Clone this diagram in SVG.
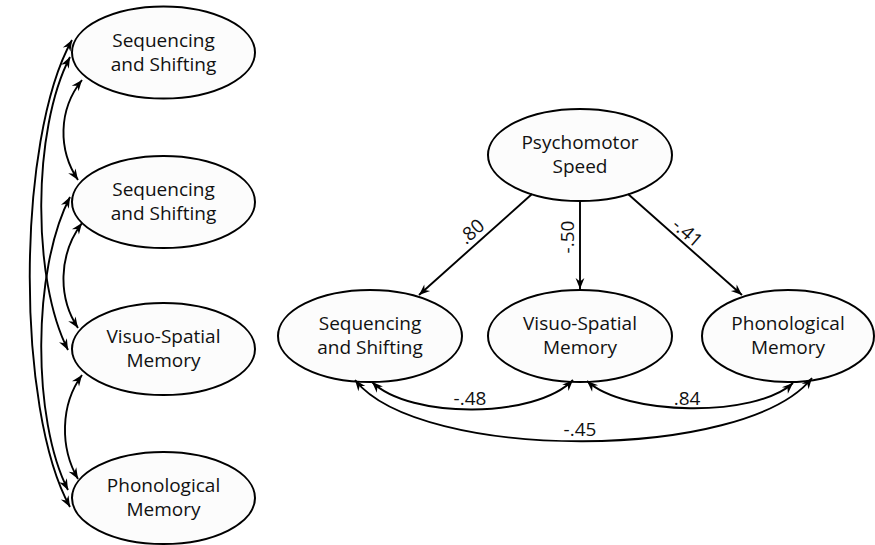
<svg xmlns="http://www.w3.org/2000/svg" width="875" height="545" viewBox="0 0 875 545">
  <style>
    .node ellipse { fill: #fcfcfc; stroke: #000; stroke-width: 2; }
    .node text, .lbl { font-family: "Open Sans", "Liberation Sans", sans-serif; font-size: 19px; fill: #111; text-anchor: middle; }
    .edge { fill: none; stroke: #000; stroke-width: 1.9; }
    .one { marker-end: url(#head); }
    .two { marker-start: url(#head); marker-end: url(#head); }
  </style>
  <defs>
    <marker id="head" markerUnits="userSpaceOnUse" viewBox="-12 -6 14 12" refX="0" refY="0" markerWidth="14" markerHeight="12" orient="auto-start-reverse">
      <path d="M0,0 L-11,-4.4 L-7.5,0 L-11,4.4 Z" fill="#000"/>
    </marker>
  </defs>

  <rect width="875" height="545" fill="#fff"/>

  <!-- left column: correlated factors -->
  <g id="left-seq-1" class="node">
    <ellipse cx="163.5" cy="52.5" rx="91.5" ry="46"/>
    <text x="163.5" y="46.5">Sequencing</text>
    <text x="163.5" y="70.5">and Shifting</text>
  </g>
  <g id="left-seq-2" class="node">
    <ellipse cx="163.5" cy="202" rx="91.5" ry="46"/>
    <text x="163.5" y="196">Sequencing</text>
    <text x="163.5" y="220">and Shifting</text>
  </g>
  <g id="left-visuo" class="node">
    <ellipse cx="163.5" cy="349" rx="91.5" ry="46"/>
    <text x="163.5" y="343">Visuo-Spatial</text>
    <text x="163.5" y="367">Memory</text>
  </g>
  <g id="left-phono" class="node">
    <ellipse cx="163.5" cy="498" rx="91.5" ry="46"/>
    <text x="163.5" y="492">Phonological</text>
    <text x="163.5" y="516">Memory</text>
  </g>

  <!-- right side: single factor model -->
  <g id="psychomotor" class="node">
    <ellipse cx="580" cy="155" rx="92" ry="46"/>
    <text x="580" y="149">Psychomotor</text>
    <text x="580" y="173">Speed</text>
  </g>
  <g id="right-seq" class="node">
    <ellipse cx="370" cy="336" rx="92" ry="46"/>
    <text x="370" y="330">Sequencing</text>
    <text x="370" y="354">and Shifting</text>
  </g>
  <g id="right-visuo" class="node">
    <ellipse cx="580" cy="336" rx="92" ry="46"/>
    <text x="580" y="330">Visuo-Spatial</text>
    <text x="580" y="354">Memory</text>
  </g>
  <g id="right-phono" class="node">
    <ellipse cx="788" cy="336" rx="86" ry="46"/>
    <text x="788" y="330">Phonological</text>
    <text x="788" y="354">Memory</text>
  </g>

  <g id="connectors">
    <!-- left column covariances -->
    <path class="edge two" d="M82,80 C58,110 58,150 78,180"/>
    <path class="edge two" d="M82,223 C58,255 58,298 78,328"/>
    <path class="edge two" d="M82,375 C60,405 60,448 78,479"/>
    <path class="edge two" d="M70,57 C32,130 32,280 68,350"/>
    <path class="edge two" d="M70,197 C32,270 32,420 68,490"/>
    <path class="edge two" d="M72,40 C16,140 16,410 70,507"/>

    <!-- loadings -->
    <path class="edge one" d="M532,194 L419,295"/>
    <path class="edge one" d="M580,201 L580,289"/>
    <path class="edge one" d="M628,194 L742,295"/>
    <text class="lbl" transform="translate(472,232) rotate(-41.6)" y="6">.80</text>
    <text class="lbl" transform="translate(568,237) rotate(-90)" y="6">-.50</text>
    <text class="lbl" transform="translate(687,233) rotate(41)" y="6">-.41</text>

    <!-- right covariances -->
    <path class="edge two" d="M372,382 C410,419 535,419 573,380"/>
    <path class="edge two" d="M587,381 C625,416 755,418 793,383"/>
    <path class="edge two" d="M355,380 C420,462 745,462 812,378"/>
    <text class="lbl" x="470" y="405">-.48</text>
    <text class="lbl" x="687" y="405">.84</text>
    <text class="lbl" x="580" y="436">-.45</text>
  </g>
</svg>
